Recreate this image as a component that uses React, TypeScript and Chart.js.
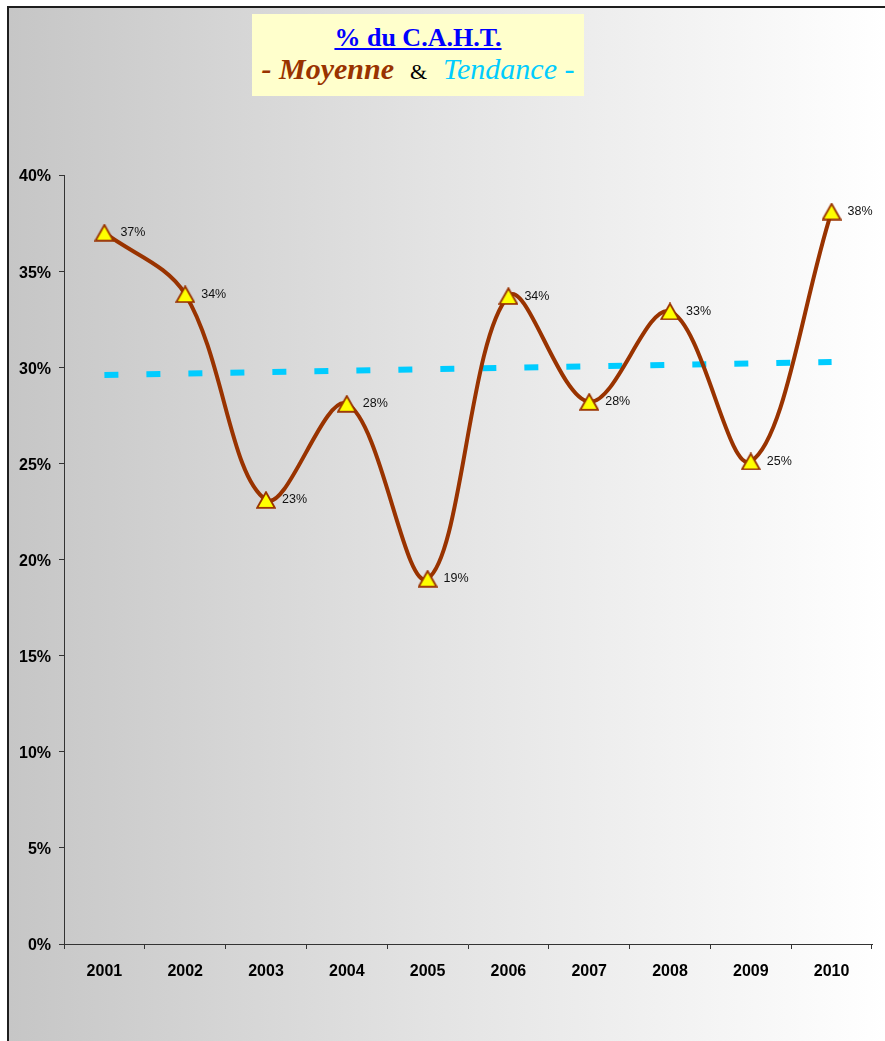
import React, { useEffect, useRef } from "react";
import { Chart, registerables } from "chart.js";

Chart.register(...registerables);

const years = ["2001", "2002", "2003", "2004", "2005", "2006", "2007", "2008", "2009", "2010"];
const moyenne = [37.0, 33.8, 23.1, 28.1, 19.0, 33.7, 28.2, 32.9, 25.1, 38.1];
const moyenneLabels = ["37%", "34%", "23%", "28%", "19%", "34%", "28%", "33%", "25%", "38%"];
const tendance: (number | null)[] = [29.6, null, null, null, null, null, null, null, null, 30.27];
const yMin = 0;
const yMax = 40;
const yStep = 5;

const ARIAL = '"Liberation Sans", Arial, sans-serif';
const SERIF = '"Liberation Serif", "Times New Roman", serif';

function makeTriangle(): HTMLCanvasElement {
  const c = document.createElement("canvas");
  c.width = 20;
  c.height = 18;
  const g = c.getContext("2d")!;
  g.beginPath();
  g.moveTo(10, 1.2);
  g.lineTo(18.8, 16.8);
  g.lineTo(1.2, 16.8);
  g.closePath();
  g.fillStyle = "#ffff00";
  g.fill();
  g.lineWidth = 1.8;
  g.lineJoin = "miter";
  g.strokeStyle = "#993300";
  g.stroke();
  return c;
}

const pointLabelPlugin = {
  id: "pointLabels",
  afterDatasetsDraw(chart: any) {
    const meta = chart.getDatasetMeta(0);
    const ctx = chart.ctx;
    ctx.save();
    ctx.font = `12.5px ${ARIAL}`;
    ctx.fillStyle = "#111111";
    ctx.textAlign = "left";
    ctx.textBaseline = "middle";
    meta.data.forEach((pt: any, i: number) => {
      ctx.fillText(moyenneLabels[i], pt.x + 16, pt.y);
    });
    ctx.restore();
  },
};

export default function App() {
  const ref = useRef<HTMLCanvasElement>(null);

  useEffect(() => {
    if (!ref.current) return;
    const tri = makeTriangle();
    const chart = new Chart(ref.current, {
      type: "line",
      data: {
        labels: years,
        datasets: [
          {
            label: "Moyenne",
            data: moyenne,
            borderColor: "#993300",
            borderWidth: 4,
            tension: 0.35,
            pointStyle: tri as any,
            pointRadius: 9,
            pointHoverRadius: 9,
            fill: false,
          },
          {
            label: "Tendance",
            data: tendance,
            spanGaps: true,
            borderColor: "#00ccff",
            borderWidth: 6,
            borderDash: [14, 28],
            borderCapStyle: "butt",
            pointRadius: 0,
            pointHoverRadius: 0,
            tension: 0,
            fill: false,
          },
        ],
      },
      options: {
        responsive: false,
        animation: false,
        events: [],
        layout: { padding: { left: 0, top: 175, right: 13, bottom: 0 } },
        plugins: {
          legend: { display: false },
          tooltip: { enabled: false },
          title: { display: false },
        },
        scales: {
          x: {
            type: "category",
            offset: true,
            border: { display: true, color: "#333333", width: 1 },
            grid: {
              offset: true,
              drawOnChartArea: false,
              drawTicks: true,
              tickLength: 5,
              color: "#333333",
            },
            ticks: {
              color: "#000000",
              font: { family: ARIAL, size: 16, weight: "bold" },
              padding: 13,
              maxRotation: 0,
              autoSkip: false,
            },
            afterFit: (s: any) => {
              s.height = 97;
            },
          },
          y: {
            min: yMin,
            max: yMax,
            border: { display: true, color: "#333333", width: 1 },
            grid: {
              drawOnChartArea: false,
              drawTicks: true,
              tickLength: 5,
              color: "#333333",
            },
            ticks: {
              stepSize: yStep,
              color: "#000000",
              font: { family: ARIAL, size: 16, weight: "bold" },
              padding: 8,
              labelOffset: 2,
              callback: (v: any) => `${v}%`,
            },
            afterFit: (s: any) => {
              s.width = 64;
            },
          },
        },
      },
      plugins: [pointLabelPlugin],
    });
    return () => chart.destroy();
  }, []);

  return (
    <div style={{ position: "absolute", left: 0, top: 0, width: 885, height: 1041, overflow: "hidden" }}>
      <div
        style={{
          position: "absolute",
          left: 7,
          top: 6,
          width: 878,
          height: 1035,
          boxSizing: "border-box",
          borderLeft: "2px solid #1e1e1e",
          borderTop: "2px solid #1e1e1e",
          background: "linear-gradient(to right, #c6c6c6 0%, #e4e4e4 50%, #ffffff 100%)",
        }}
      />
      <canvas
        ref={ref}
        width={885}
        height={1041}
        style={{ position: "absolute", left: 0, top: 0, width: 885, height: 1041, display: "block" }}
      />
      <div
        style={{
          position: "absolute",
          left: 252,
          top: 14,
          width: 332,
          height: 82,
          background: "#ffffcc",
          fontFamily: SERIF,
          textAlign: "center",
          whiteSpace: "nowrap",
        }}
      >
        <div
          style={{
            position: "absolute",
            left: 0,
            right: 0,
            top: 11,
            fontSize: 26,
            lineHeight: "26px",
            fontWeight: "bold",
            color: "#0000ff",
            textDecoration: "underline",
          }}
        >
          % du C.A.H.T.
        </div>
        <div
          style={{
            position: "absolute",
            left: 0,
            right: 0,
            top: 40,
            fontSize: 30,
            lineHeight: "30px",
          }}
        >
          <span style={{ color: "#993300", fontWeight: "bold", fontStyle: "italic" }}>- Moyenne</span>
          <span style={{ color: "#000000", fontSize: 22, margin: "0 16px" }}>&amp;</span>
          <span style={{ color: "#00ccff", fontStyle: "italic" }}>Tendance -</span>
        </div>
      </div>
    </div>
  );
}
